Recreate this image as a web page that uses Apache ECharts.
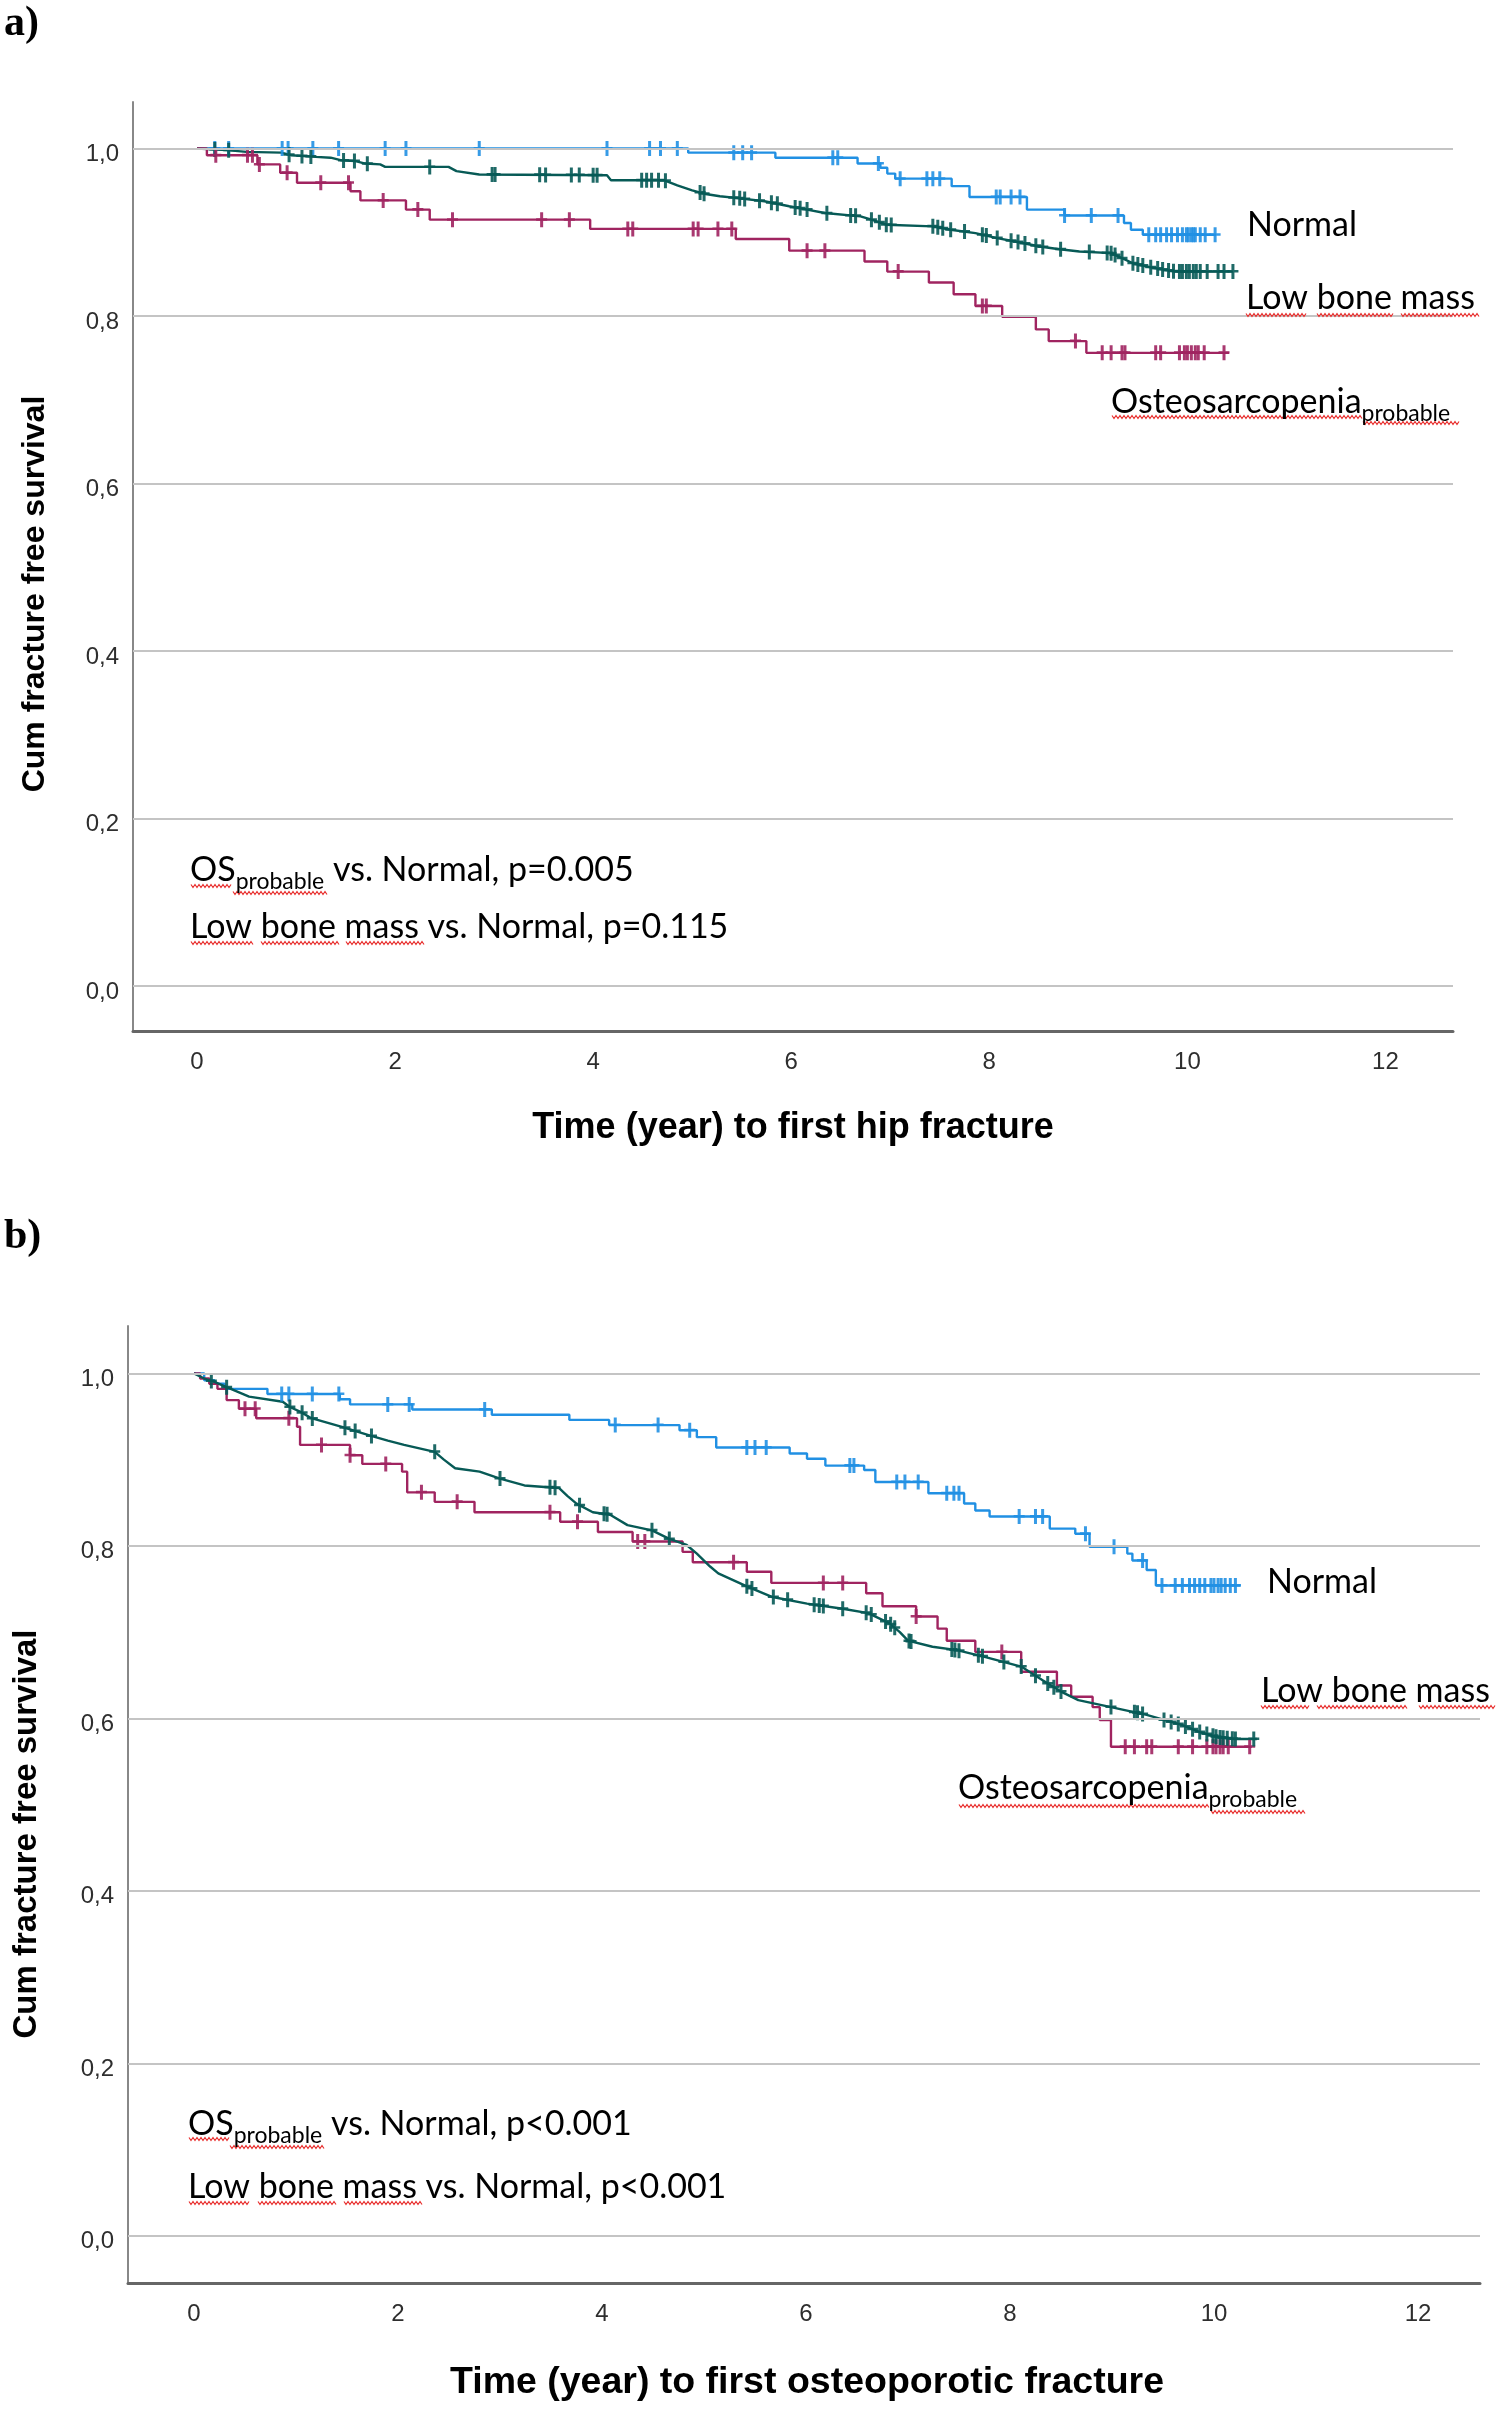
<!DOCTYPE html>
<html>
<head>
<meta charset="utf-8">
<script src="https://cdn.jsdelivr.net/npm/echarts@6/dist/echarts.min.js"></script>
<style>
html,body{margin:0;padding:0;background:#fff;}
#c{width:1499px;height:2410px;}
</style>
</head>
<body>
<div id="c"></div>
<script>
// ---------- tick labels ----------
const xTicks = [0, 2, 4, 6, 8, 10, 12];
const yTicks = [0, 0.2, 0.4, 0.6, 0.8, 1.0];

// ---------- Panel a: time to first hip fracture ----------
const hipNormalT = [0, 4.96, 5.84, 6.67, 6.90, 6.97, 7.05, 7.62, 7.80, 8.38, 8.76, 9.36, 9.43, 9.55, 10.29];
const hipNormalS = [1.0, 0.995, 0.989, 0.982, 0.977, 0.970, 0.964, 0.955, 0.942, 0.927, 0.920, 0.911, 0.903, 0.897, 0.897];
const hipNormalCens = [0.18,0.32,0.86,0.92,1.17,1.43,1.90,2.11,2.85,4.14,4.57,4.68,4.85,5.42,5.51,5.60,6.42,6.47,6.88,7.10,7.37,7.43,7.50,8.07,8.11,8.22,8.31,8.76,9.03,9.30,9.61,9.68,9.73,9.79,9.84,9.90,9.95,9.99,10.01,10.04,10.06,10.08,10.13,10.18,10.28];
const hipLowT = [0,0.15,0.30,0.50,0.85,0.95,1.20,1.35,1.45,1.60,1.70,1.85,1.90,2.54,2.62,2.85,4.14,4.18,4.72,4.85,5.00,5.12,5.28,5.44,5.73,5.98,6.16,6.34,6.70,6.81,6.96,7.43,7.61,7.86,8.08,8.26,8.51,8.69,8.91,9.23,9.34,9.45,9.59,9.77,9.88,10.46];
const hipLowS = [1.0,0.999,0.998,0.996,0.995,0.992,0.990,0.989,0.986,0.985,0.982,0.981,0.978,0.978,0.973,0.969,0.968,0.962,0.962,0.956,0.950,0.946,0.943,0.941,0.937,0.931,0.927,0.923,0.919,0.915,0.909,0.907,0.903,0.899,0.893,0.889,0.883,0.880,0.877,0.875,0.869,0.863,0.859,0.855,0.853,0.853];
const hipLowCens = [0.18,0.32,0.93,1.06,1.15,1.48,1.59,1.72,2.35,2.98,3.01,3.46,3.52,3.78,3.86,4.00,4.04,4.49,4.54,4.59,4.66,4.73,5.08,5.12,5.42,5.48,5.53,5.68,5.80,5.86,6.04,6.09,6.16,6.36,6.60,6.65,6.81,6.89,6.96,7.01,7.43,7.48,7.53,7.61,7.75,7.93,7.97,8.08,8.22,8.29,8.36,8.47,8.54,8.72,9.01,9.19,9.23,9.27,9.34,9.45,9.50,9.55,9.63,9.70,9.75,9.81,9.86,9.92,9.95,9.99,10.02,10.06,10.09,10.13,10.20,10.31,10.37,10.46];
const hipOsT = [0, 0.10, 0.61, 0.84, 1.01, 1.55, 1.65, 2.11, 2.35, 3.97, 5.44, 5.98, 6.74, 6.97, 7.39, 7.64, 7.86, 8.13, 8.47, 8.60, 8.98, 10.42];
const hipOsS = [1.0, 0.992, 0.981, 0.971, 0.959, 0.949, 0.938, 0.927, 0.915, 0.904, 0.892, 0.878, 0.865, 0.853, 0.840, 0.826, 0.812, 0.799, 0.784, 0.770, 0.756, 0.756];
const hipOsCens = [0.19,0.51,0.56,0.63,0.91,1.25,1.53,1.88,2.23,2.58,3.48,3.76,4.35,4.40,5.01,5.06,5.26,5.40,6.16,6.34,7.08,7.93,7.97,8.87,9.14,9.23,9.34,9.37,9.68,9.73,9.92,9.97,10.00,10.04,10.08,10.11,10.17,10.37];

// ---------- Panel b: time to first osteoporotic fracture ----------
const ofNormalT = [0,0.10,0.20,0.30,0.72,1.43,1.53,2.14,2.92,3.68,4.07,4.76,4.93,5.12,5.84,6.01,6.19,6.57,6.68,7.20,7.55,7.66,7.80,8.39,8.64,8.78,9.15,9.20,9.34,9.43,10.26];
const ofNormalS = [1.0,0.992,0.988,0.982,0.976,0.970,0.964,0.958,0.952,0.946,0.940,0.934,0.926,0.914,0.907,0.901,0.893,0.888,0.874,0.861,0.849,0.841,0.834,0.820,0.814,0.799,0.791,0.783,0.772,0.754,0.754];
const ofNormalCens = [0.86,0.93,1.16,1.42,1.90,2.11,2.85,4.13,4.55,4.86,5.42,5.50,5.61,6.43,6.47,6.89,6.97,7.10,7.38,7.45,7.50,8.09,8.25,8.32,8.74,9.02,9.30,9.49,9.62,9.69,9.76,9.81,9.86,9.91,9.97,10.00,10.04,10.07,10.11,10.16,10.21];
const ofLowT = [0,0.10,0.20,0.32,0.54,0.87,0.94,1.05,1.15,1.45,1.72,1.90,2.06,2.36,2.45,2.56,2.80,3.00,3.24,3.47,3.58,3.66,3.75,3.91,4.08,4.25,4.49,4.66,4.83,4.93,5.06,5.14,5.42,5.66,6.01,6.36,6.61,6.82,6.92,7.00,7.24,7.48,7.76,8.11,8.32,8.50,8.67,8.99,9.34,9.69,9.86,10.04,10.20,10.42];
const ofLowS = [1.0,0.994,0.990,0.984,0.973,0.967,0.961,0.955,0.948,0.938,0.928,0.922,0.917,0.909,0.900,0.890,0.886,0.878,0.870,0.868,0.867,0.858,0.849,0.839,0.836,0.824,0.818,0.808,0.801,0.791,0.776,0.768,0.753,0.741,0.733,0.727,0.722,0.710,0.700,0.690,0.683,0.679,0.671,0.660,0.644,0.631,0.621,0.613,0.604,0.592,0.584,0.578,0.576,0.576];
const ofLowCens = [0.17,0.32,0.94,1.06,1.16,1.48,1.58,1.74,2.36,3.00,3.49,3.54,3.78,4.02,4.05,4.49,4.66,5.42,5.47,5.68,5.82,6.08,6.13,6.17,6.36,6.59,6.64,6.78,6.83,6.87,7.01,7.03,7.43,7.46,7.50,7.69,7.73,7.94,8.11,8.25,8.37,8.43,8.50,8.99,9.22,9.25,9.30,9.51,9.58,9.65,9.72,9.79,9.86,9.93,9.99,10.02,10.06,10.09,10.13,10.18,10.21,10.39];
const ofOsT = [0,0.06,0.15,0.23,0.32,0.44,0.61,1.01,1.04,1.53,1.65,2.04,2.09,2.36,2.75,3.59,3.96,4.30,4.79,4.89,5.42,5.66,6.59,6.75,7.08,7.29,7.38,7.66,8.11,8.46,8.60,8.81,8.88,8.99,10.37];
const ofOsS = [1.0,0.994,0.988,0.982,0.969,0.959,0.948,0.938,0.917,0.905,0.895,0.886,0.862,0.851,0.839,0.828,0.816,0.805,0.793,0.781,0.770,0.757,0.745,0.730,0.718,0.704,0.690,0.677,0.654,0.638,0.625,0.613,0.598,0.567,0.567];
const ofOsCens = [0.50,0.60,0.93,1.25,1.53,1.88,2.23,2.58,3.49,3.76,4.35,4.42,5.29,6.17,6.36,7.08,7.92,9.13,9.22,9.34,9.39,9.65,9.79,9.93,9.99,10.02,10.06,10.09,10.14,10.35];

// ---------- texts ----------
const yTitle = 'Cum fracture free survival';
const xTitleA = 'Time (year) to first hip fracture';
const xTitleB = 'Time (year) to first osteoporotic fracture';
const groupNames = ['Normal', 'Low bone mass', 'Osteosarcopenia'];
const pA = ['p=0.005', 'p=0.115'];
const pB = ['p<0.001', 'p<0.001'];

// ---------- styling ----------
const COL_N = '#2190e3', COL_L = '#075a56', COL_O = '#a02460';
const SANS = '"Liberation Sans", Arial, sans-serif';
const WORD = 'Lato, "Open Sans", sans-serif';

function stepAt(T, S, t) { let s = S[0]; for (let i = 0; i < T.length; i++) if (T[i] <= t) s = S[i]; return s; }
function linAt(T, S, t) {
  for (let i = 1; i < T.length; i++) {
    if (t <= T[i]) { const f = (t - T[i-1]) / (T[i] - T[i-1] || 1); return S[i-1] + f * (S[i] - S[i-1]); }
  }
  return S[S.length - 1];
}
const zip = (T, S) => T.map((t, i) => [t, S[i]]);
const PLUS = 'path://M4,0h3v6h4v2.5h-4v6.5h-3v-6.5h-4v-2.5h4z';

function curve(name, T, S, color, idx, step) {
  return {
    type: 'line', name, xAxisIndex: idx, yAxisIndex: idx, data: zip(T, S),
    step: step ? 'end' : false, showSymbol: false, symbol: 'none', z: 3,
    lineStyle: { color, width: 2.4 }, animation: false, silent: true
  };
}
function cens(T, S, C, color, idx, step) {
  return {
    type: 'scatter', xAxisIndex: idx, yAxisIndex: idx,
    data: C.map(t => [t, step ? stepAt(T, S, t) : linAt(T, S, t)]),
    symbol: PLUS, symbolSize: [11, 15], itemStyle: { color, opacity: 0.9 }, z: 4, animation: false, silent: true
  };
}
function gridSeries(idx) {
  return {
    type: 'line', xAxisIndex: idx, yAxisIndex: idx, data: [], z: 1, silent: true, animation: false,
    markLine: {
      silent: true, symbol: ['none', 'none'], label: { show: false }, animation: false,
      lineStyle: { color: '#c4c4c4', width: 2, type: 'solid' },
      data: yTicks.map(v => ({ yAxis: v }))
    }
  };
}
function xAx(idx, min, max) {
  return {
    type: 'value', gridIndex: idx, min, max,
    axisLine: { show: true, onZero: false, lineStyle: { color: '#666', width: 3 } },
    axisTick: { show: false }, splitLine: { show: false },
    axisLabel: { customValues: xTicks, margin: 19, fontSize: 24, color: '#2e2e2e', fontFamily: SANS }
  };
}
function yAx(idx, min, max) {
  return {
    type: 'value', gridIndex: idx, min, max,
    axisLine: { show: true, onZero: false, lineStyle: { color: '#888', width: 2 } },
    axisTick: { show: false }, splitLine: { show: false },
    axisLabel: { customValues: yTicks, margin: 14, fontSize: 24, color: '#2e2e2e', fontFamily: SANS,
      verticalAlign: 'top', lineHeight: 12, formatter: v => v.toFixed(1).replace('.', ',') }
  };
}

const richStyles = {
  m: { fontSize: 34, fontFamily: WORD, lineHeight: 46, fill: '#000', color: '#000' },
  s: { fontSize: 23, fontFamily: WORD, lineHeight: 23, verticalAlign: 'bottom', fill: '#000', color: '#000' }
};
function wordText(x, y, text) {
  return { type: 'text', x, y, silent: true, z: 10,
    style: { text, rich: richStyles, fontSize: 34, fontFamily: WORD, fill: '#000', align: 'left', verticalAlign: 'middle' } };
}
function plainText(x, y, text, size, weight, family, align, rot) {
  return { type: 'text', x, y, rotation: rot || 0, silent: true, z: 10,
    style: { text, fontSize: size, fontWeight: weight, fontFamily: family, fill: '#000', align: align, verticalAlign: 'middle' } };
}
function squig(x1, x2, y) {
  const pts = []; let k = 0;
  for (let x = x1; x <= x2; x += 2, k++) pts.push([x, y + (k % 2 ? 1.5 : -1.5)]);
  return { type: 'polyline', silent: true, z: 9, shape: { points: pts }, style: { stroke: '#e8302f', lineWidth: 1.2, fill: null } };
}

const chart = echarts.init(document.getElementById('c'), null, { renderer: 'canvas' });
chart.setOption({
  backgroundColor: '#fff',
  animation: false,
  grid: [
    { left: 133, top: 102, width: 1320, height: 929 },
    { left: 128, top: 1326, width: 1352, height: 957 }
  ],
  xAxis: [xAx(0, -0.646, 12.682), xAx(1, -0.647, 12.608)],
  yAxis: [yAx(0, -0.0537, 1.0555), yAx(1, -0.0548, 1.0549)],
  series: [
    gridSeries(0), gridSeries(1),
    curve(groupNames[0], hipNormalT, hipNormalS, COL_N, 0, true),
    curve(groupNames[1], hipLowT, hipLowS, COL_L, 0, false),
    curve(groupNames[2], hipOsT, hipOsS, COL_O, 0, true),
    cens(hipNormalT, hipNormalS, hipNormalCens, COL_N, 0, true),
    cens(hipLowT, hipLowS, hipLowCens, COL_L, 0, false),
    cens(hipOsT, hipOsS, hipOsCens, COL_O, 0, true),
    curve(groupNames[0], ofNormalT, ofNormalS, COL_N, 1, true),
    curve(groupNames[2], ofOsT, ofOsS, COL_O, 1, true),
    curve(groupNames[1], ofLowT, ofLowS, COL_L, 1, false),
    cens(ofNormalT, ofNormalS, ofNormalCens, COL_N, 1, true),
    cens(ofOsT, ofOsS, ofOsCens, COL_O, 1, true),
    cens(ofLowT, ofLowS, ofLowCens, COL_L, 1, false)
  ],
  graphic: [
    plainText(4, 24, 'a)', 42, 'bold', '"Liberation Serif", "Times New Roman", serif', 'left'),
    plainText(4, 1237, 'b)', 42, 'bold', '"Liberation Serif", "Times New Roman", serif', 'left'),
    plainText(35, 594, yTitle, 32, 'bold', SANS, 'center', Math.PI / 2),
    plainText(27, 1834, yTitle, 33, 'bold', SANS, 'center', Math.PI / 2),
    plainText(793, 1128, xTitleA, 36, 'bold', SANS, 'center'),
    plainText(807, 2383, xTitleB, 37.5, 'bold', SANS, 'center'),
    wordText(1247, 225, '{m|' + groupNames[0] + '}'),
    wordText(1246, 298, '{m|' + groupNames[1] + '}'),
    wordText(1111, 402, '{m|' + groupNames[2] + '}{s|probable}'),
    wordText(190, 870, '{m|OS}{s|probable}{m| vs. Normal, ' + pA[0] + '}'),
    wordText(190, 927, '{m|Low bone mass vs. Normal, ' + pA[1] + '}'),
    wordText(1267, 1582, '{m|' + groupNames[0] + '}'),
    wordText(1261, 1691, '{m|' + groupNames[1] + '}'),
    wordText(958, 1788, '{m|' + groupNames[2] + '}{s|probable}'),
    wordText(188, 2124, '{m|OS}{s|probable}{m| vs. Normal, ' + pB[0] + '}'),
    wordText(188, 2187, '{m|Low bone mass vs. Normal, ' + pB[1] + '}'),
    squig(1246, 1306, 315), squig(1317, 1393, 315), squig(1401, 1480, 315),
    squig(1112, 1363, 417), squig(1363, 1459, 423),
    squig(191, 232, 886), squig(233, 327, 893),
    squig(191, 253, 943), squig(261, 339, 943), squig(346, 424, 943),
    squig(1261, 1309, 1707), squig(1317, 1408, 1707), squig(1419, 1495, 1707),
    squig(959, 1210, 1806), squig(1211, 1306, 1812),
    squig(189, 229, 2139), squig(230, 325, 2147),
    squig(189, 250, 2203), squig(258, 336, 2203), squig(344, 422, 2203)
  ]
});
</script>
</body>
</html>
